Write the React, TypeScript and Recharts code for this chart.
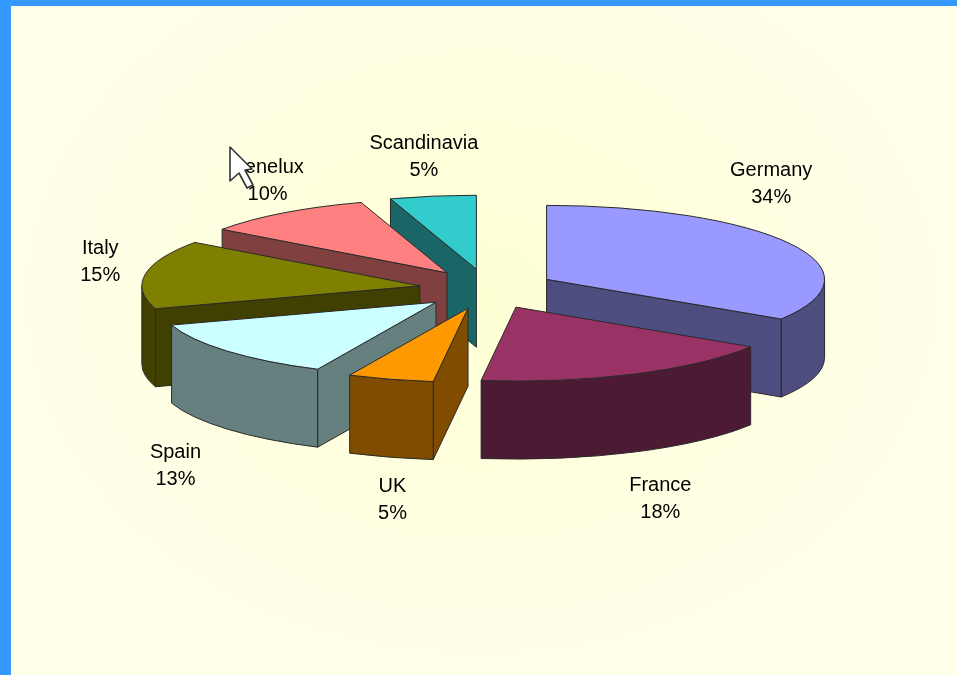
import { Pie, PieChart } from 'recharts';

// Shares in percent. Order is the paint order: Germany sits at the back right,
// then the slices run counter-clockwise so nearer slices cover farther walls.
const regions = ['Germany', 'Scandinavia', 'Benelux', 'Italy', 'Spain', 'UK', 'France'];
const shares = [34, 5, 10, 15, 13, 5, 18];
const topColors = ['#9999FF', '#33CCCC', '#FF8080', '#808000', '#CCFFFF', '#FF9900', '#993366'];
const wallColors = ['#4D4D80', '#1A6666', '#804040', '#404000', '#668080', '#804D00', '#4D1A33'];
// hand placement of the two-line labels, relative to the exploded rim midpoint
const labelShiftX = [-19, -9, -16, -45, -52, 2, 26];
const labelShiftY = [-62, -41, -34, -14, 113, 119, 123];

const WIDTH = 957;
const HEIGHT = 675;
const TILT = 74 / 278;
const DEPTH = 78;
const EXPLODE_X = 68;
const EXPLODE_Y = 20;
const RAD = Math.PI / 180;

const data = regions.map((name, i) => ({
  name,
  value: shares[i],
  fill: topColors[i],
  wall: wallColors[i],
}));

const startAngle = 90 - (shares[0] / 100) * 360;

function apexOf(cx: number, cy: number, mid: number) {
  return { x: cx + EXPLODE_X * Math.cos(mid * RAD), y: cy - EXPLODE_Y * Math.sin(mid * RAD) };
}

// Recharts hands over the angles; everything else is the projection of the flat sector.
function Slice3D(props: any) {
  const { cx, cy, outerRadius: r, startAngle: s, endAngle: e, fill, payload } = props;
  const a0 = Math.min(s, e);
  const a1 = Math.max(s, e);
  const apex = apexOf(cx, cy, (a0 + a1) / 2);
  const rim = (a: number) => ({
    x: apex.x + r * Math.cos(a * RAD),
    y: apex.y - r * TILT * Math.sin(a * RAD),
  });
  const ry = r * TILT;
  const wall = payload?.wall ?? props.wall;
  const stroke = '#2a2a2a';

  const cutFace = (a: number) => {
    const p = rim(a);
    return `M${apex.x},${apex.y} L${p.x},${p.y} L${p.x},${p.y + DEPTH} L${apex.x},${apex.y + DEPTH} Z`;
  };

  // the part of the curved wall that faces the viewer
  const arcFaces = [
    [-180, 0],
    [180, 360],
  ]
    .map(([lo, hi]) => [Math.max(a0, lo), Math.min(a1, hi)])
    .filter(([l, h]) => h > l)
    .map(([l, h]) => {
      const p = rim(l);
      const q = rim(h);
      return (
        `M${p.x},${p.y} A${r},${ry} 0 0 0 ${q.x},${q.y} ` +
        `L${q.x},${q.y + DEPTH} A${r},${ry} 0 0 1 ${p.x},${p.y + DEPTH} Z`
      );
    });

  const p0 = rim(a0);
  const p1 = rim(a1);
  const large = a1 - a0 > 180 ? 1 : 0;
  const top = `M${apex.x},${apex.y} L${p0.x},${p0.y} A${r},${ry} 0 ${large} 0 ${p1.x},${p1.y} Z`;

  return (
    <g stroke={stroke} strokeWidth={1} strokeLinejoin="round">
      {Math.cos(a1 * RAD) < -1e-6 ? <path d={cutFace(a1)} fill={wall} /> : null}
      {Math.cos(a0 * RAD) > 1e-6 ? <path d={cutFace(a0)} fill={wall} /> : null}
      {arcFaces.map((d) => (
        <path key={d} d={d} fill={wall} />
      ))}
      <path d={top} fill={fill} />
    </g>
  );
}

function SliceLabel(props: any) {
  const { cx, cy, midAngle, outerRadius: r, index, name, value } = props;
  const apex = apexOf(cx, cy, midAngle);
  const x = apex.x + r * Math.cos(midAngle * RAD) + labelShiftX[index];
  const y = apex.y - r * TILT * Math.sin(midAngle * RAD) + labelShiftY[index];
  return (
    <text
      x={x}
      y={y}
      textAnchor="middle"
      fontFamily="Liberation Sans, Arial, sans-serif"
      fontSize={20}
      fill="#000"
    >
      <tspan x={x} dy={-6}>
        {name}
      </tspan>
      <tspan x={x} dy={27}>
        {value}%
      </tspan>
    </text>
  );
}

// the stray mouse pointer from the original screenshot, which hides the B of Benelux
function MouseCursor() {
  return (
    <svg
      width={WIDTH}
      height={HEIGHT}
      style={{ position: 'absolute', left: 0, top: 0, pointerEvents: 'none' }}
    >
      <rect x={232} y={154} width={13} height={20} fill="#FFFFE4" />
      <path
        d="M230,147 L230,181 L239,173 L247,188 L253,185 L245,170 L252,169 Z"
        fill="#fff"
        stroke="#333"
        strokeWidth={1.6}
        strokeLinejoin="round"
      />
    </svg>
  );
}

export default function App() {
  return (
    <div
      style={{
        position: 'absolute',
        left: 0,
        top: 0,
        width: WIDTH,
        height: HEIGHT,
        overflow: 'hidden',
        background: '#3399FF',
      }}
    >
      <div
        style={{
          position: 'absolute',
          left: 11,
          top: 6,
          right: 0,
          bottom: 0,
          background: 'radial-gradient(ellipse 470px 370px at 470px 290px, #FFFFD4 0%, #FFFFEA 100%)',
        }}
      />
      <div style={{ position: 'absolute', left: 0, top: 0, filter: 'blur(0.7px)' }}>
        <PieChart width={WIDTH} height={HEIGHT} margin={{ top: 0, right: 0, bottom: 0, left: 0 }}>
          <Pie
            data={data}
            dataKey="value"
            nameKey="name"
            cx={487}
            cy={289}
            outerRadius={278}
            startAngle={startAngle}
            endAngle={startAngle + 360}
            shape={Slice3D}
            label={SliceLabel}
            labelLine={false}
            isAnimationActive={false}
          />
        </PieChart>
        <MouseCursor />
      </div>
    </div>
  );
}
